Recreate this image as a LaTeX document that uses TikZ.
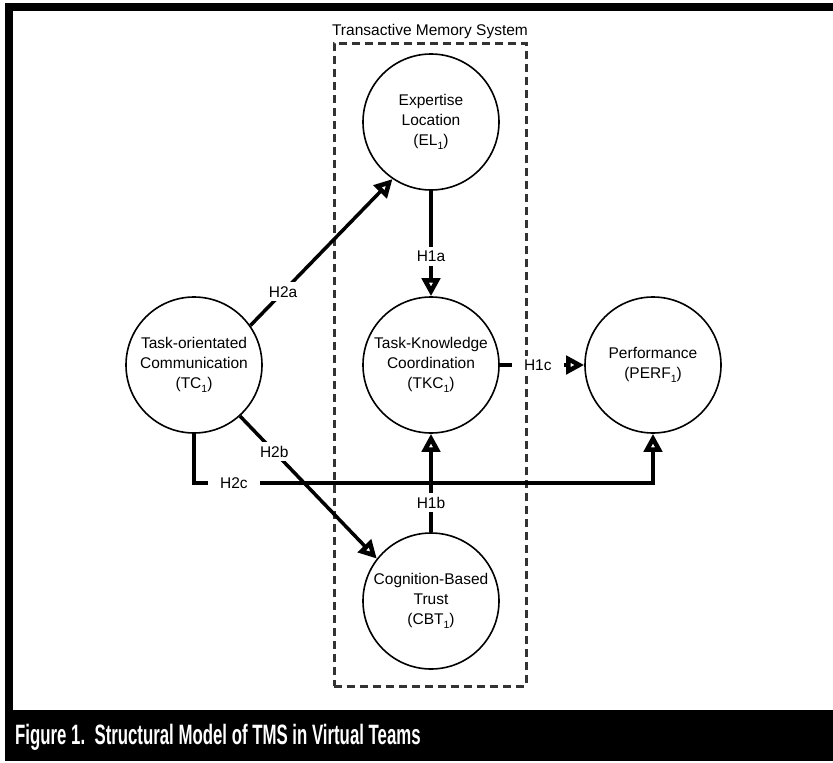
\documentclass[tikz,border=0pt]{standalone}
\usepackage{fontspec}
\setmainfont{Liberation Sans}
\newfontfamily\capfont[FakeStretch=0.6]{Liberation Sans}
\usetikzlibrary{arrows.meta}
% index set below the baseline, as in TC_1
\newcommand\idx[1]{\raisebox{-0.45ex}{\fontsize{10.5}{11}\selectfont #1}}

\begin{document}
\begin{tikzpicture}[x=1pt, y=-1pt,
  construct/.style={circle, draw, line width=1.6pt, minimum size=136pt,
    inner sep=0pt, align=center, font=\fontsize{15.5}{20}\selectfont},
  conn/.style={line width=3.5pt,
    -{Triangle[open, length=18pt, width=18pt, line width=5pt]}},
  lbl/.style={fill=white, inner xsep=12pt, inner ysep=4pt,
    font=\fontsize{15.5}{18}\selectfont},
  tmsbox/.style={draw=black!80, line width=3pt,
    dash pattern=on 8pt off 5pt, inner sep=0pt},
]
% page and frame
\fill[white] (0,0) rectangle (833,763);
\useasboundingbox (0,0) rectangle (833,763);
\fill[black] (5,3) rectangle (833,11);
\fill[black] (5,3) rectangle (13,761);
\fill[black] (5,710) rectangle (833,761);
\node[anchor=west, text=white, inner sep=0pt,
  font=\capfont\bfseries\fontsize{28}{32}\selectfont] (caption) at (15,737)
  {Figure 1.\ \ Structural Model of TMS in Virtual Teams};

% transactive memory system group
\node[tmsbox, minimum width=192pt, minimum height=643pt] (tms) at (430,364.5) {};
\node[font=\fontsize{15.5}{18}\selectfont, inner sep=0pt] (tmstitle) at (430,31)
  {Transactive Memory System};

% constructs
\node[construct] (el)   at (431,122) {Expertise\\Location\\(EL\idx{1})};
\node[construct] (tkc)  at (431,365) {Task-Knowledge\\Coordination\\(TKC\idx{1})};
\node[construct] (cbt)  at (431,601) {Cognition-Based\\Trust\\(CBT\idx{1})};
\node[construct] (tc)   at (194,365) {Task-orientated\\Communication\\(TC\idx{1})};
\node[construct] (perf) at (653,365) {Performance\\(PERF\idx{1})};

% hypothesised paths
\draw[conn] (tc.35) -- node[lbl, pos=0.23] {H2a} (el.236);
\draw[conn] (tc.-48) -- node[lbl, pos=0.25] {H2b} (cbt.142);
\draw[conn] (el.south) -- node[lbl, pos=0.62] {H1a} (tkc.north);
\draw[conn] (cbt.north) -- node[lbl, pos=0.3] {H1b} (tkc.south);
\draw[conn] (tkc.east) -- node[lbl, pos=0.45] {H1c} (perf.west);
\draw[conn] (tc.south) -- ++(0,49) coordinate (h2c)
  -- node[lbl, pos=0.087] {H2c} (h2c -| perf.south) -- (perf.south);
\end{tikzpicture}
\end{document}
